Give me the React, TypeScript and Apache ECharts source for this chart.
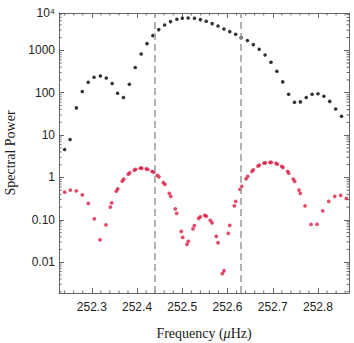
import React, { useEffect, useRef } from "react";
import * as echarts from "echarts";

// ---- data ----
const BLACK_FREQ = [
  252.240, 252.252, 252.266, 252.279, 252.292, 252.305, 252.319, 252.332, 252.345, 252.357,
  252.370, 252.383, 252.396, 252.409, 252.422, 252.435, 252.448, 252.461, 252.474, 252.488,
  252.500, 252.513, 252.527, 252.540, 252.553, 252.566, 252.579, 252.592, 252.605, 252.618,
  252.630, 252.644, 252.657, 252.670, 252.683, 252.696, 252.709, 252.722, 252.735, 252.748,
  252.761, 252.774, 252.787, 252.800, 252.813, 252.826, 252.839, 252.852,
];
const BLACK_POWER = [
  4.57, 7.88, 43.8, 106.7, 176.9, 232, 249, 223, 165, 97.3,
  77.1, 158.7, 393, 822, 1445, 2234, 3094, 3973, 4776, 5414,
  5715, 5808, 5715, 5325, 4853, 4285, 3763, 3197, 2776, 2397,
  2004, 1703, 1370, 1062, 779, 524, 321, 180, 92.2, 59.7,
  60.7, 77.1, 92.2, 94.7, 82.7, 62.4, 41.3, 27.9,
];

const RED_FREQ = [
  252.2401, 252.2525, 252.2657, 252.2790, 252.2923, 252.3055, 252.3181, 252.3314, 252.3409, 252.3440,
  252.3542, 252.3573, 252.3674, 252.3705, 252.3807, 252.3838, 252.3940, 252.3970, 252.4072, 252.4103,
  252.4205, 252.4236, 252.4331, 252.4368, 252.4448, 252.4485, 252.4581, 252.4618, 252.4713, 252.4744,
  252.4846, 252.4877, 252.4978, 252.5009, 252.5104, 252.5133, 252.5237, 252.5266, 252.5363, 252.5398,
  252.5496, 252.5531, 252.5619, 252.5657, 252.5752, 252.5790, 252.5885, 252.5922, 252.6017, 252.6048,
  252.6150, 252.6181, 252.6276, 252.6314, 252.6409, 252.6446, 252.6541, 252.6570, 252.6674, 252.6703,
  252.6806, 252.6835, 252.6939, 252.6968, 252.7072, 252.7100, 252.7198, 252.7226, 252.7330, 252.7352,
  252.7454, 252.7485, 252.7580, 252.7609, 252.7713, 252.7845, 252.7978, 252.8104, 252.8237, 252.8369,
  252.8502, 252.8626,
];
const RED_POWER = [
  0.450, 0.502, 0.483, 0.389, 0.2436, 0.1056, 0.03375, 0.0762, 0.1993, 0.2518,
  0.475, 0.5384, 0.818, 0.912, 1.196, 1.284, 1.486, 1.544, 1.657, 1.657,
  1.595, 1.544, 1.385, 1.334, 1.115, 1.033, 0.754, 0.684, 0.4217, 0.3563,
  0.1817, 0.1416, 0.0533, 0.03845, 0.0263, 0.03095, 0.0613, 0.0730, 0.1085, 0.1177,
  0.1270, 0.1223, 0.0968, 0.0850, 0.0408, 0.0287, 0.00538, 0.00627, 0.0478, 0.0738,
  0.2139, 0.2716, 0.5212, 0.6167, 0.927, 1.056, 1.385, 1.511, 1.847, 1.950,
  2.174, 2.210, 2.259, 2.259, 2.139, 2.060, 1.817, 1.721, 1.385, 1.263,
  0.912, 0.805, 0.502, 0.4194, 0.2139, 0.0779, 0.0779, 0.1631, 0.2716, 0.3563,
  0.3762, 0.3197,
];

const DASHED_FREQ = [252.4393, 252.6294];

// axis ranges and tick labels
const X_MIN = 252.2275;
const X_MAX = 252.8685;
const Y_MIN = 0.00187;
const Y_MAX = 7620;
const Y_TICK_EXPONENTS = [-2, -1, 0, 1, 2, 3, 4];
const Y_TICK_LABELS = ["0.01", "0.10", "1", "10", "100", "1000", "10⁴"];
const X_MINOR = [
  252.24, 252.26, 252.28, 252.32, 252.34, 252.36, 252.38, 252.42, 252.44, 252.46,
  252.48, 252.52, 252.54, 252.56, 252.58, 252.62, 252.64, 252.66, 252.68, 252.72,
  252.74, 252.76, 252.78, 252.82, 252.84, 252.86,
];
const Y_MINOR_MANTISSAS = [2, 3, 4, 5, 6, 7, 8, 9];
const Y_MINOR_DECADES = [0.001, 0.01, 0.1, 1, 10, 100, 1000];

const FRAME = "#666";
const TEXT = "#222";
const SANS = "'Liberation Sans', Arial, sans-serif";
const SERIF = "'Liberation Serif', 'Times New Roman', serif";

export default function App() {
  const ref = useRef<HTMLDivElement>(null);

  useEffect(() => {
    if (!ref.current) return;
    const chart = echarts.init(ref.current, undefined, { renderer: "svg" });

    const black = BLACK_FREQ.map((f, i) => [f, BLACK_POWER[i]]);
    const red = RED_FREQ.map((f, i) => [f, RED_POWER[i]]);
    const yMinor: number[][] = [];
    Y_MINOR_DECADES.forEach((d) =>
      Y_MINOR_MANTISSAS.forEach((m) => {
        const v = m * d;
        if (v > Y_MIN && v < Y_MAX) yMinor.push([X_MIN, v]);
      })
    );
    const xMinor = X_MINOR.map((f) => [f, Y_MIN]);

    const yLabel = (v: number) => {
      if (v >= Y_MAX * 0.999) return Y_TICK_LABELS[Y_TICK_EXPONENTS.indexOf(4)];
      const e = Math.log10(v);
      const r = Math.round(e);
      if (Math.abs(e - r) < 1e-6) {
        const idx = Y_TICK_EXPONENTS.indexOf(r);
        if (idx >= 0) return Y_TICK_LABELS[idx];
      }
      return "";
    };

    const axisLine = { show: true, onZero: false, lineStyle: { color: FRAME, width: 1 } };
    const axisTick = { show: true, inside: true, length: 5, lineStyle: { color: FRAME, width: 1 } };

    chart.setOption({
      animation: false,
      backgroundColor: "#fff",
      grid: { left: 59, right: 5, top: 13, bottom: 50, containLabel: false, outerBoundsMode: "none" },
      xAxis: [
        {
          type: "value",
          min: X_MIN,
          max: X_MAX,
          position: "bottom",
          axisLine,
          axisTick,
          splitLine: { show: false },
          axisLabel: {
            show: true,
            margin: 8,
            showMinLabel: false,
            showMaxLabel: false,
            fontFamily: SANS,
            fontSize: 12,
            color: TEXT,
            formatter: (v: number) => v.toFixed(1),
          },
          name: "{n|Frequency (}{m|μ}{n|Hz)}",
          nameLocation: "middle",
          nameGap: 33,
          nameTextStyle: {
            rich: {
              n: { fontFamily: SERIF, fontSize: 14, color: TEXT },
              m: { fontFamily: SERIF, fontSize: 14, fontStyle: "italic", color: TEXT },
            },
          },
        },
        {
          type: "value",
          min: X_MIN,
          max: X_MAX,
          position: "top",
          axisLine,
          axisTick,
          splitLine: { show: false },
          axisLabel: { show: false },
        },
      ],
      yAxis: [
        {
          type: "log",
          logBase: 10,
          min: Y_MIN,
          max: Y_MAX,
          position: "left",
          axisLine,
          axisTick,
          splitLine: { show: false },
          axisLabel: {
            show: true,
            margin: 4,
            fontFamily: SANS,
            fontSize: 12,
            color: TEXT,
            formatter: yLabel,
          },
          name: "Spectral Power",
          nameLocation: "middle",
          nameGap: 40,
          nameTextStyle: { fontFamily: SERIF, fontSize: 14, color: TEXT },
        },
        {
          type: "log",
          logBase: 10,
          min: Y_MIN,
          max: Y_MAX,
          position: "right",
          axisLine,
          axisTick,
          splitLine: { show: false },
          axisLabel: { show: false },
        },
      ],
      series: [
        {
          type: "custom",
          name: "yMinor",
          silent: true,
          clip: false,
          xAxisIndex: 0,
          yAxisIndex: 0,
          data: yMinor,
          renderItem: (_p: any, api: any) => {
            const v = api.value(1);
            const l = api.coord([X_MIN, v]);
            const r = api.coord([X_MAX, v]);
            return {
              type: "group",
              children: [
                { type: "line", shape: { x1: l[0], y1: l[1], x2: l[0] + 2.5, y2: l[1] }, style: { stroke: FRAME, lineWidth: 1 } },
                { type: "line", shape: { x1: r[0] - 2.5, y1: r[1], x2: r[0], y2: r[1] }, style: { stroke: FRAME, lineWidth: 1 } },
              ],
            };
          },
        },
        {
          type: "custom",
          name: "xMinor",
          silent: true,
          clip: false,
          xAxisIndex: 0,
          yAxisIndex: 0,
          data: xMinor,
          renderItem: (_p: any, api: any) => {
            const f = api.value(0);
            const b = api.coord([f, Y_MIN]);
            const t = api.coord([f, Y_MAX]);
            return {
              type: "group",
              children: [
                { type: "line", shape: { x1: b[0], y1: b[1], x2: b[0], y2: b[1] - 2.5 }, style: { stroke: FRAME, lineWidth: 1 } },
                { type: "line", shape: { x1: t[0], y1: t[1], x2: t[0], y2: t[1] + 2.5 }, style: { stroke: FRAME, lineWidth: 1 } },
              ],
            };
          },
        },
        {
          type: "scatter",
          name: "red",
          xAxisIndex: 0,
          yAxisIndex: 0,
          data: red,
          symbol: "circle",
          symbolSize: 3.8,
          itemStyle: { color: "#dc1e46" },
          silent: true,
          markLine: {
            silent: true,
            symbol: ["none", "none"],
            label: { show: false },
            lineStyle: { color: "#999", width: 1.5, type: [7, 4] },
            data: DASHED_FREQ.map((f) => ({ xAxis: f })),
          },
        },
        {
          type: "scatter",
          name: "black",
          xAxisIndex: 0,
          yAxisIndex: 0,
          data: black,
          symbol: "circle",
          symbolSize: 3.6,
          itemStyle: { color: "#000" },
          silent: true,
        },
      ],
    });

    return () => chart.dispose();
  }, []);

  return (
    <div
      ref={ref}
      style={{ position: "fixed", left: 0, top: 0, width: 354, height: 343, background: "#fff" }}
    />
  );
}
